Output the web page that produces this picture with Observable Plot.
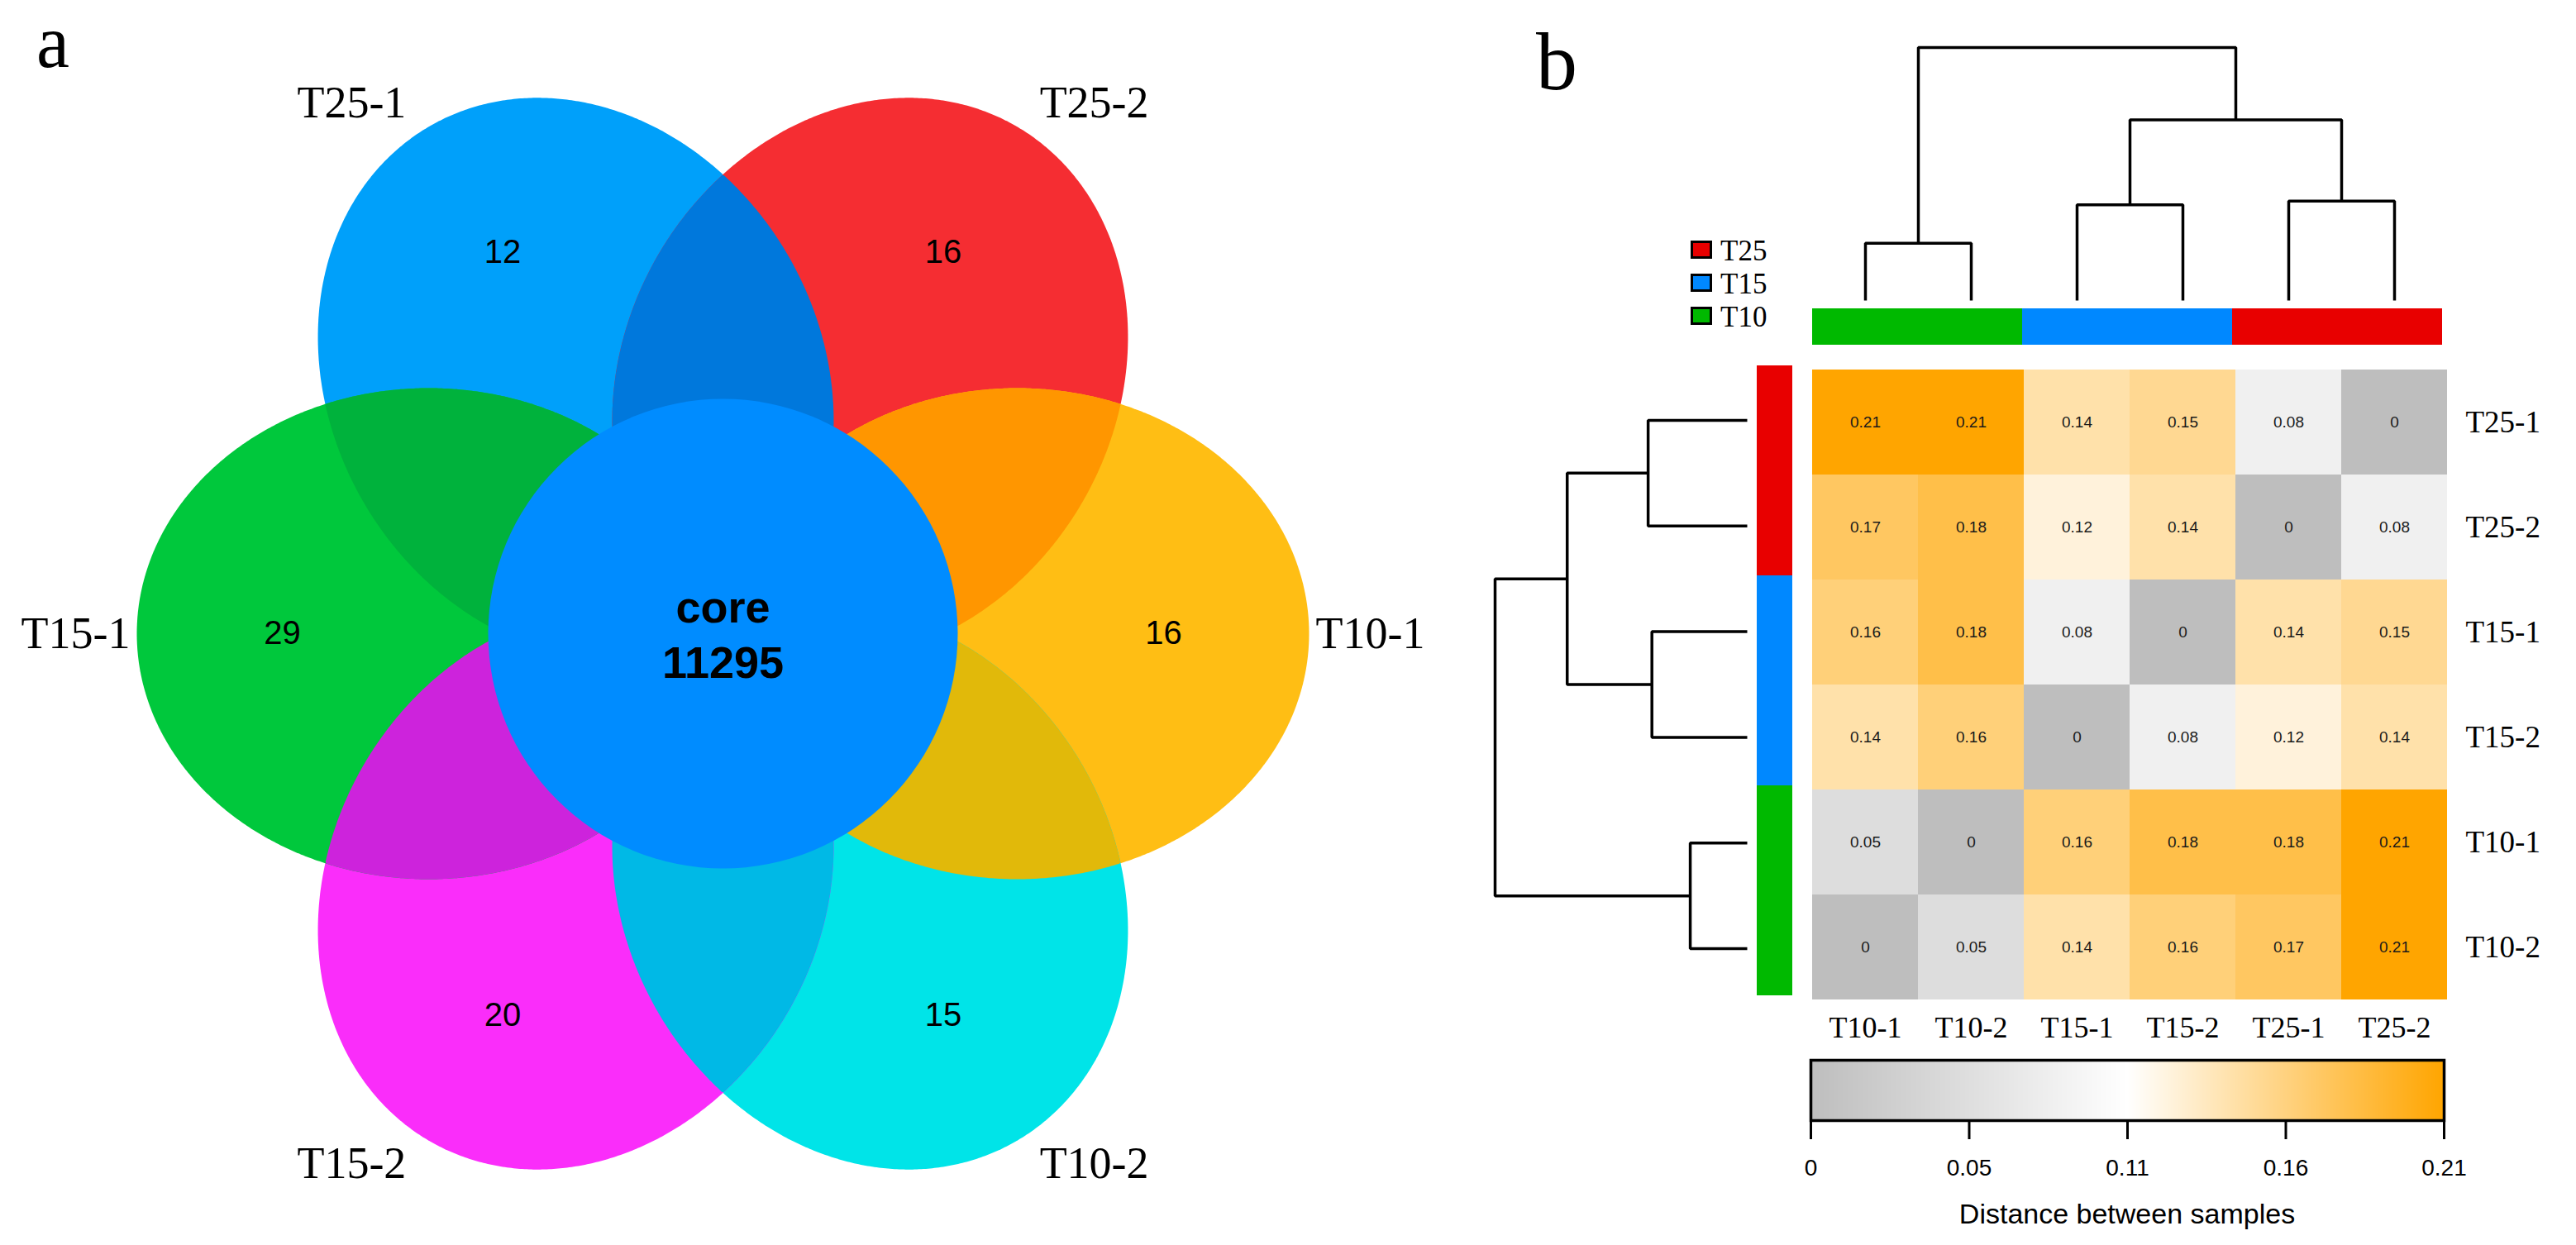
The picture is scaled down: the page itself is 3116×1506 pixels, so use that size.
<!DOCTYPE html>
<html>
<head>
<meta charset="utf-8">
<script src="https://cdn.jsdelivr.net/npm/d3@7"></script>
<script src="https://cdn.jsdelivr.net/npm/@observablehq/plot@0.6"></script>
<style>
  html, body { margin: 0; padding: 0; background: #fff; }
  #root { position: relative; width: 3116px; height: 1506px; overflow: hidden; background: #fff; }
  .abs { position: absolute; }
  .panel { font-family: "Liberation Serif", serif; font-size: 100px; line-height: 80px; color: #000; }
  .panelA { font-family: "Liberation Serif", serif; font-size: 90px; line-height: 80px; color: #000; }
  .legtext { font-family: "Liberation Serif", serif; font-size: 35px; line-height: 35px; color: #000; }
  .cbtitle { font-family: "Liberation Sans", Arial, sans-serif; font-size: 34px; line-height: 34px; color: #000; text-align: center; }
  svg { overflow: visible; }
</style>
</head>
<body>
<div id="root"></div>
<script>
// ---------------- Data ----------------
// Panel a: flower Venn diagram
const vennSets = ["T25-1", "T25-2", "T10-1", "T10-2", "T15-2", "T15-1"];
const vennUnique = [12, 16, 16, 15, 20, 29];
const vennColors = ["#00A0FA", "#F52D32", "#FFBE14", "#00E4E8", "#FA2DFA", "#00C83C"];
// colour of overlap between set i and set i+1
const vennOverlapColors = ["#0078DC", "#FF9600", "#E1B90A", "#00B9E6", "#CD23DC", "#00B23C"];
const coreName = "core";
const coreCount = 11295;
const coreColor = "#008CFF";

// Panel b: distance heatmap
const colSamples = ["T10-1", "T10-2", "T15-1", "T15-2", "T25-1", "T25-2"];
const rowSamples = ["T25-1", "T25-2", "T15-1", "T15-2", "T10-1", "T10-2"];
const distT25_1 = [0.21, 0.21, 0.14, 0.15, 0.08, 0];
const distT25_2 = [0.17, 0.18, 0.12, 0.14, 0, 0.08];
const distT15_1 = [0.16, 0.18, 0.08, 0, 0.14, 0.15];
const distT15_2 = [0.14, 0.16, 0, 0.08, 0.12, 0.14];
const distT10_1 = [0.05, 0, 0.16, 0.18, 0.18, 0.21];
const distT10_2 = [0, 0.05, 0.14, 0.16, 0.17, 0.21];
const distanceRows = [distT25_1, distT25_2, distT15_1, distT15_2, distT10_1, distT10_2];

const groupNames = ["T25", "T15", "T10"];
const groupColors = ["#E80000", "#0088FF", "#00B900"];

// hierarchical clustering (merge order, relative merge height)
const mergeName = ["T10", "T15", "T25", "T15+T25", "root"];
const mergeLeft = ["T10-1", "T15-1", "T25-1", "T15", "T10"];
const mergeRight = ["T10-2", "T15-2", "T25-2", "T25", "T15+T25"];
const mergeHeight = [0.226, 0.378, 0.393, 0.714, 1];

const colorDomain = [0, 0.105, 0.21];
const colorRange = ["#BEBEBE", "#FFFFFF", "#FFA500"];
const cbTickValues = [0, 0.0525, 0.105, 0.1575, 0.21];
const cbTickLabels = ["0", "0.05", "0.11", "0.16", "0.21"];
const cbTitle = "Distance between samples";

// ---------------- Layout (geometry) ----------------
const root = document.getElementById("root");
function place(node, left, top, w, h) {
  const div = document.createElement("div");
  div.className = "abs";
  div.style.left = left + "px";
  div.style.top = top + "px";
  if (w != null) div.style.width = w + "px";
  if (h != null) div.style.height = h + "px";
  div.appendChild(node);
  root.appendChild(div);
  return div;
}
function textDiv(txt, cls, left, top, w) {
  const d = document.createElement("div");
  d.className = "abs " + cls;
  d.style.left = left + "px";
  d.style.top = top + "px";
  if (w != null) d.style.width = w + "px";
  d.textContent = txt;
  root.appendChild(d);
  return d;
}

// ---------- Panel a: Venn ----------
const V = {w: 1760, h: 1506, cx: 874, cy: 766, d: 356, a: 353, b: 297, r: 284, countR: 533, labelR: 783};
const setAngles = [120, 60, 0, -60, -120, 180];
const labelAngles = [125, 55, 0, -55, -125, 180];
const rad = Math.PI / 180;

function ellipse(angle) {
  const t0 = angle * rad, ox = V.d * Math.cos(t0), oy = V.d * Math.sin(t0);
  const pts = [];
  for (let k = 0; k < 720; k++) {
    const t = k * 0.5 * rad;
    const u = V.a * Math.cos(t), v = V.b * Math.sin(t);
    pts.push({x: ox + u * Math.cos(t0) - v * Math.sin(t0), y: oy + u * Math.sin(t0) + v * Math.cos(t0)});
  }
  return pts;
}
function inside(p, angle) {
  const t0 = angle * rad;
  const dx = p.x - V.d * Math.cos(t0), dy = p.y - V.d * Math.sin(t0);
  const u = dx * Math.cos(t0) + dy * Math.sin(t0), v = -dx * Math.sin(t0) + dy * Math.cos(t0);
  return (u * u) / (V.a * V.a) + (v * v) / (V.b * V.b) <= 1;
}
function arcInside(pts, angle) {
  const n = pts.length, ins = pts.map(p => inside(p, angle));
  let start = 0;
  for (let k = 0; k < n; k++) if (!ins[k] && ins[(k + 1) % n]) { start = (k + 1) % n; break; }
  const out = [];
  for (let k = 0; k < n; k++) { const i = (start + k) % n; if (!ins[i]) break; out.push(pts[i]); }
  return out;
}
function lens(i, j) {
  return arcInside(ellipse(setAngles[i]), setAngles[j]).concat(arcInside(ellipse(setAngles[j]), setAngles[i]));
}

const vennMarks = [];
vennSets.forEach((s, i) => {
  vennMarks.push(Plot.line(ellipse(setAngles[i]), {x: "x", y: "y", fill: vennColors[i], stroke: "none", curve: "linear-closed"}));
});
vennSets.forEach((s, i) => {
  const j = (i + 1) % vennSets.length;
  vennMarks.push(Plot.line(lens(i, j), {x: "x", y: "y", fill: vennOverlapColors[i], stroke: "none", curve: "linear-closed"}));
});
vennMarks.push(Plot.dot([{x: 0, y: 0}], {x: "x", y: "y", r: V.r, fill: coreColor, stroke: "none"}));
const countData = vennSets.map((s, i) => ({x: V.countR * Math.cos(setAngles[i] * rad), y: V.countR * Math.sin(setAngles[i] * rad), label: String(vennUnique[i])}));
vennMarks.push(Plot.text(countData, {x: "x", y: "y", text: "label", fontSize: 40, fontFamily: "Liberation Sans", fill: "#000"}));
const labelData = vennSets.map((s, i) => ({x: V.labelR * Math.cos(labelAngles[i] * rad), y: V.labelR * Math.sin(labelAngles[i] * rad), label: s}));
vennMarks.push(Plot.text(labelData, {x: "x", y: "y", text: "label", fontSize: 54, fontFamily: "Liberation Serif", fill: "#000"}));
vennMarks.push(Plot.text([coreName], {x: () => 0, y: () => 0, text: d => d, dy: -31, fontSize: 54, fontWeight: "bold", fontFamily: "Liberation Sans", fill: "#000"}));
vennMarks.push(Plot.text([coreCount], {x: () => 0, y: () => 0, text: d => String(d), dy: 36, fontSize: 54, fontWeight: "bold", fontFamily: "Liberation Sans", fill: "#000"}));

const venn = Plot.plot({
  width: V.w, height: V.h, margin: 0,
  style: {background: "transparent"},
  x: {domain: [-V.cx, V.w - V.cx], axis: null},
  y: {domain: [V.cy - V.h, V.cy], axis: null},
  marks: vennMarks
});
place(venn, 0, 0, V.w, V.h);
textDiv("a", "panelA", 44, 11);

// ---------- Panel b ----------
textDiv("b", "panel", 1858, 35);

const colorOpts = {type: "linear", domain: colorDomain, range: colorRange, interpolate: "rgb"};
const H = {left: 2192, top: 444, w: 768, h: 767};

const cells = [];
rowSamples.forEach((r, i) => colSamples.forEach((c, j) => cells.push({row: r, col: c, value: distanceRows[i][j]})));
const fmt = v => (v === 0 ? "0" : v.toFixed(2));

const heat = Plot.plot({
  width: H.w + 140, height: H.h + 70,
  marginLeft: 0, marginTop: 0, marginRight: 140, marginBottom: 70,
  style: {fontFamily: "Liberation Serif", fontSize: "37px", background: "transparent", color: "#000"},
  x: {type: "band", domain: colSamples, padding: 0, label: null},
  y: {type: "band", domain: rowSamples, padding: 0, label: null},
  color: colorOpts,
  marks: [
    Plot.cell(cells, {x: "col", y: "row", fill: "value", inset: 0}),
    Plot.text(cells, {x: "col", y: "row", text: d => fmt(d.value), fontSize: 19, fontFamily: "Liberation Sans", fill: "#1a1a1a"}),
    Plot.axisY({anchor: "right", tickSize: 0, tickPadding: 22, fontSize: 37, label: null}),
    Plot.axisX({anchor: "bottom", tickSize: 0, tickPadding: 18, fontSize: 36, label: null})
  ]
});
place(heat, H.left, H.top, H.w + 140, H.h + 70);

function dendroSegments(order) {
  const pos = new Map(order.map((s, i) => [s, i]));
  const hh = new Map(order.map(s => [s, 0]));
  const segs = [];
  mergeName.forEach((m, k) => {
    const L = mergeLeft[k], R = mergeRight[k], Hm = mergeHeight[k];
    const pl = pos.get(L), pr = pos.get(R);
    [[pl, hh.get(L)], [pl, Hm], [pr, Hm], [pr, hh.get(R)]].forEach(([p, h]) => segs.push({id: m, pos: p, h}));
    pos.set(m, (pl + pr) / 2);
    hh.set(m, Hm);
  });
  return segs;
}

// top dendrogram
const topDendro = Plot.plot({
  width: H.w, height: 323, marginLeft: 0, marginRight: 0, marginTop: 17, marginBottom: 0,
  style: {background: "transparent"},
  x: {domain: [-0.5, colSamples.length - 0.5], axis: null},
  y: {domain: [0, 1], axis: null},
  marks: [Plot.line(dendroSegments(colSamples), {x: "pos", y: "h", z: "id", stroke: "#000", strokeWidth: 3.5, strokeLinejoin: "miter", strokeLinecap: "butt"})]
});
place(topDendro, H.left, 40, H.w, 323);

// left dendrogram
const leftDendro = Plot.plot({
  width: 313, height: H.h, marginLeft: 8, marginRight: 0, marginTop: 0, marginBottom: 0,
  style: {background: "transparent"},
  x: {domain: [1, 0], axis: null},
  y: {domain: [-0.5, rowSamples.length - 0.5], reverse: true, axis: null},
  marks: [Plot.line(dendroSegments(rowSamples), {x: "h", y: "pos", z: "id", stroke: "#000", strokeWidth: 3.5, strokeLinejoin: "miter", strokeLinecap: "butt"})]
});
place(leftDendro, 1800, H.top, 313, H.h);

// annotation bars
const groupOf = s => s.split("-")[0];
const topBar = Plot.plot({
  width: 766, height: 44, margin: 0,
  style: {background: "transparent"},
  x: {type: "band", domain: colSamples, padding: 0, axis: null},
  color: {domain: groupNames, range: groupColors},
  marks: [Plot.cell(colSamples, {x: d => d, fill: groupOf, inset: 0})]
});
place(topBar, 2190, 373, 766, 44);

const leftBar = Plot.plot({
  width: 43, height: 766, margin: 0,
  style: {background: "transparent"},
  y: {type: "band", domain: rowSamples, padding: 0, axis: null},
  color: {domain: groupNames, range: groupColors},
  marks: [Plot.cell(rowSamples, {y: d => d, fill: groupOf, inset: 0})]
});
place(leftBar, 2125, 440, 43, 766);

// group legend
groupNames.forEach((g, i) => {
  const sq = document.createElement("div");
  sq.className = "abs";
  Object.assign(sq.style, {left: "2045px", top: (291 + 40 * i) + "px", width: "26px", height: "22px", boxSizing: "border-box", border: "3px solid #000", background: groupColors[i]});
  root.appendChild(sq);
  textDiv(g, "legtext", 2081, 286 + 40 * i);
});

// colour bar
const cbMarks = [];
if (Plot.raster) {
  cbMarks.push(Plot.raster({x1: colorDomain[0], x2: colorDomain[2], y1: 0, y2: 1, fill: (x, y) => x}));
}
cbMarks.push(Plot.frame({stroke: "#000", strokeWidth: 3.5}));
cbMarks.push(Plot.axisX({ticks: cbTickValues, tickFormat: d => cbTickLabels[cbTickValues.indexOf(d)], tickSize: 23, tickPadding: 24, strokeWidth: 3, fontSize: 28, label: null}));
const colorbar = Plot.plot({
  width: 766 + 80, height: 2 + 73 + 70,
  marginLeft: 40, marginRight: 40, marginTop: 2, marginBottom: 70,
  style: {fontFamily: "Liberation Sans", fontSize: "28px", background: "transparent", color: "#000"},
  x: {domain: [colorDomain[0], colorDomain[2]], label: null},
  y: {domain: [0, 1], axis: null},
  color: colorOpts,
  marks: cbMarks
});
place(colorbar, 2150, 1280, 846, 145);
textDiv(cbTitle, "cbtitle", 2190, 1451, 766);
</script>
</body>
</html>
